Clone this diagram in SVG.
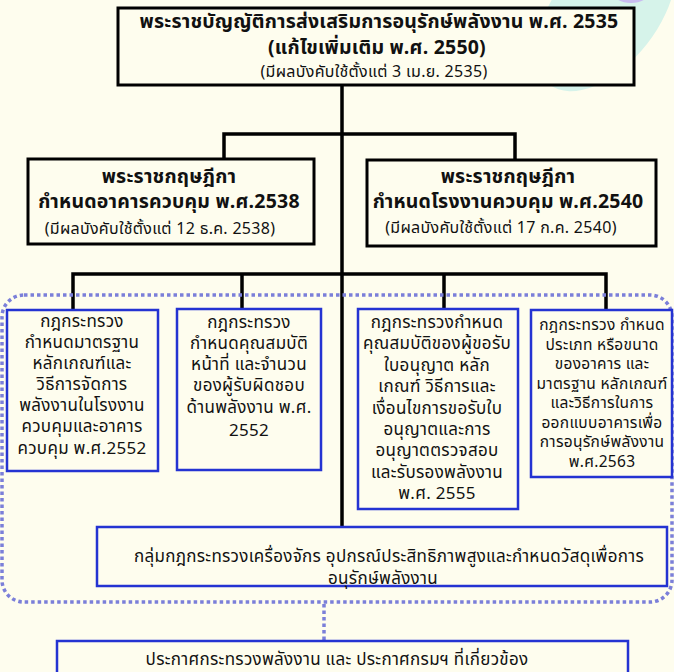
<svg xmlns="http://www.w3.org/2000/svg" width="674" height="672" viewBox="0 0 674 672">
<style>
text{font-family:"Noto Sans Thai","Noto Sans",sans-serif;fill:#111;text-anchor:middle}
.b{font-weight:bold;font-size:19.5px;letter-spacing:0.2px}
.s{font-size:16px;letter-spacing:0.3px}
.m{font-size:17px;letter-spacing:0.3px}
.n{font-size:15.5px;letter-spacing:0.3px}
.k{fill:#FEFDEE;stroke:#000;stroke-width:3}
.u{fill:#FEFDEE;stroke:#2433D2;stroke-width:2.5}
.c{stroke:#000;stroke-width:3.5;fill:none}
.d{stroke:#7B7FD9;stroke-width:3.5;fill:none;stroke-dasharray:3.5 3}
</style>
<rect width="674" height="672" fill="#FEFDEE"/>
<ellipse cx="606" cy="12" rx="92" ry="52" transform="rotate(-52 606 12)" fill="#D6F3EA"/>
<ellipse cx="631" cy="-7" rx="18" ry="10" fill="#C9BDF0"/>
<g id="connectors">
<path class="c" d="M342 85V532M224 160V134H515V160M73 310V274H606V310M242 274V309M444 274V309"/>
<rect class="d" x="2" y="295" width="670" height="307" rx="22"/>
<path class="d" d="M324 604V640"/>
</g>
<g id="act">
<rect class="k" x="118" y="8" width="516" height="77"/>
<text class="b" x="379" y="28">พระราชบัญญัติการส่งเสริมการอนุรักษ์พลังงาน พ.ศ. 2535</text>
<text class="b" x="377" y="54">(แก้ไขเพิ่มเติม พ.ศ. 2550)</text>
<text class="s" x="374" y="77">(มีผลบังคับใช้ตั้งแต่ 3 เม.ย. 2535)</text>
</g>
<g id="decree1">
<rect class="k" x="28" y="159" width="286" height="85"/>
<text class="b" x="169" y="183">พระราชกฤษฎีกา</text>
<text class="b" x="169" y="208">กำหนดอาคารควบคุม พ.ศ.2538</text>
<text class="s" x="160" y="234">(มีผลบังคับใช้ตั้งแต่ 12 ธ.ค. 2538)</text>
</g>
<g id="decree2">
<rect class="k" x="367" y="160" width="289" height="86"/>
<text class="b" x="508" y="183">พระราชกฤษฎีกา</text>
<text class="b" x="508" y="208">กำหนดโรงงานควบคุม พ.ศ.2540</text>
<text class="s" x="501" y="233">(มีผลบังคับใช้ตั้งแต่ 17 ก.ค. 2540)</text>
</g>
<g id="reg1">
<rect class="u" x="7" y="310" width="151" height="161"/>
<text class="m" x="82"><tspan x="82" y="327">กฎกระทรวง</tspan><tspan x="82" y="348">กำหนดมาตรฐาน</tspan><tspan x="82" y="369">หลักเกณฑ์และ</tspan><tspan x="82" y="390">วิธีการจัดการ</tspan><tspan x="82" y="411">พลังงานในโรงงาน</tspan><tspan x="82" y="432">ควบคุมและอาคาร</tspan><tspan x="82" y="454">ควบคุม พ.ศ.2552</tspan></text>
</g>
<g id="reg2">
<rect class="u" x="177" y="309" width="144" height="161"/>
<text class="m" x="249"><tspan x="249" y="328">กฎกระทรวง</tspan><tspan x="249" y="349">กำหนดคุณสมบัติ</tspan><tspan x="249" y="370">หน้าที่ และจำนวน</tspan><tspan x="249" y="391">ของผู้รับผิดชอบ</tspan><tspan x="249" y="413">ด้านพลังงาน พ.ศ.</tspan><tspan x="249" y="436">2552</tspan></text>
</g>
<g id="reg3">
<rect class="u" x="358" y="309" width="160" height="200"/>
<text class="m" x="437"><tspan x="437" y="328">กฎกระทรวงกำหนด</tspan><tspan x="437" y="349">คุณสมบัติของผู้ขอรับ</tspan><tspan x="437" y="371">ใบอนุญาต หลัก</tspan><tspan x="437" y="392">เกณฑ์ วิธีการและ</tspan><tspan x="437" y="414">เงื่อนไขการขอรับใบ</tspan><tspan x="437" y="435">อนุญาตและการ</tspan><tspan x="437" y="456">อนุญาตตรวจสอบ</tspan><tspan x="437" y="478">และรับรองพลังงาน</tspan><tspan x="437" y="499">พ.ศ. 2555</tspan></text>
</g>
<g id="reg4">
<rect class="u" x="531" y="310" width="141" height="167"/>
<text class="n" x="602"><tspan x="602" y="330">กฎกระทรวง กำหนด</tspan><tspan x="602" y="350">ประเภท หรือขนาด</tspan><tspan x="602" y="369">ของอาคาร และ</tspan><tspan x="602" y="389">มาตรฐาน หลักเกณฑ์</tspan><tspan x="602" y="408">และวิธีการในการ</tspan><tspan x="602" y="428">ออกแบบอาคารเพื่อ</tspan><tspan x="602" y="447">การอนุรักษ์พลังงาน</tspan><tspan x="602" y="467">พ.ศ.2563</tspan></text>
</g>
<g id="machines">
<rect class="u" x="97" y="527" width="570" height="59"/>
<text class="m" x="389" y="562">กลุ่มกฎกระทรวงเครื่องจักร อุปกรณ์ประสิทธิภาพสูงและกำหนดวัสดุเพื่อการ</text>
<text class="m" x="383" y="584">อนุรักษ์พลังงาน</text>
</g>
<g id="notices">
<rect class="u" x="57" y="641" width="571" height="40"/>
<text class="m" x="337" y="665">ประกาศกระทรวงพลังงาน และ ประกาศกรมฯ ที่เกี่ยวข้อง</text>
</g>
</svg>
